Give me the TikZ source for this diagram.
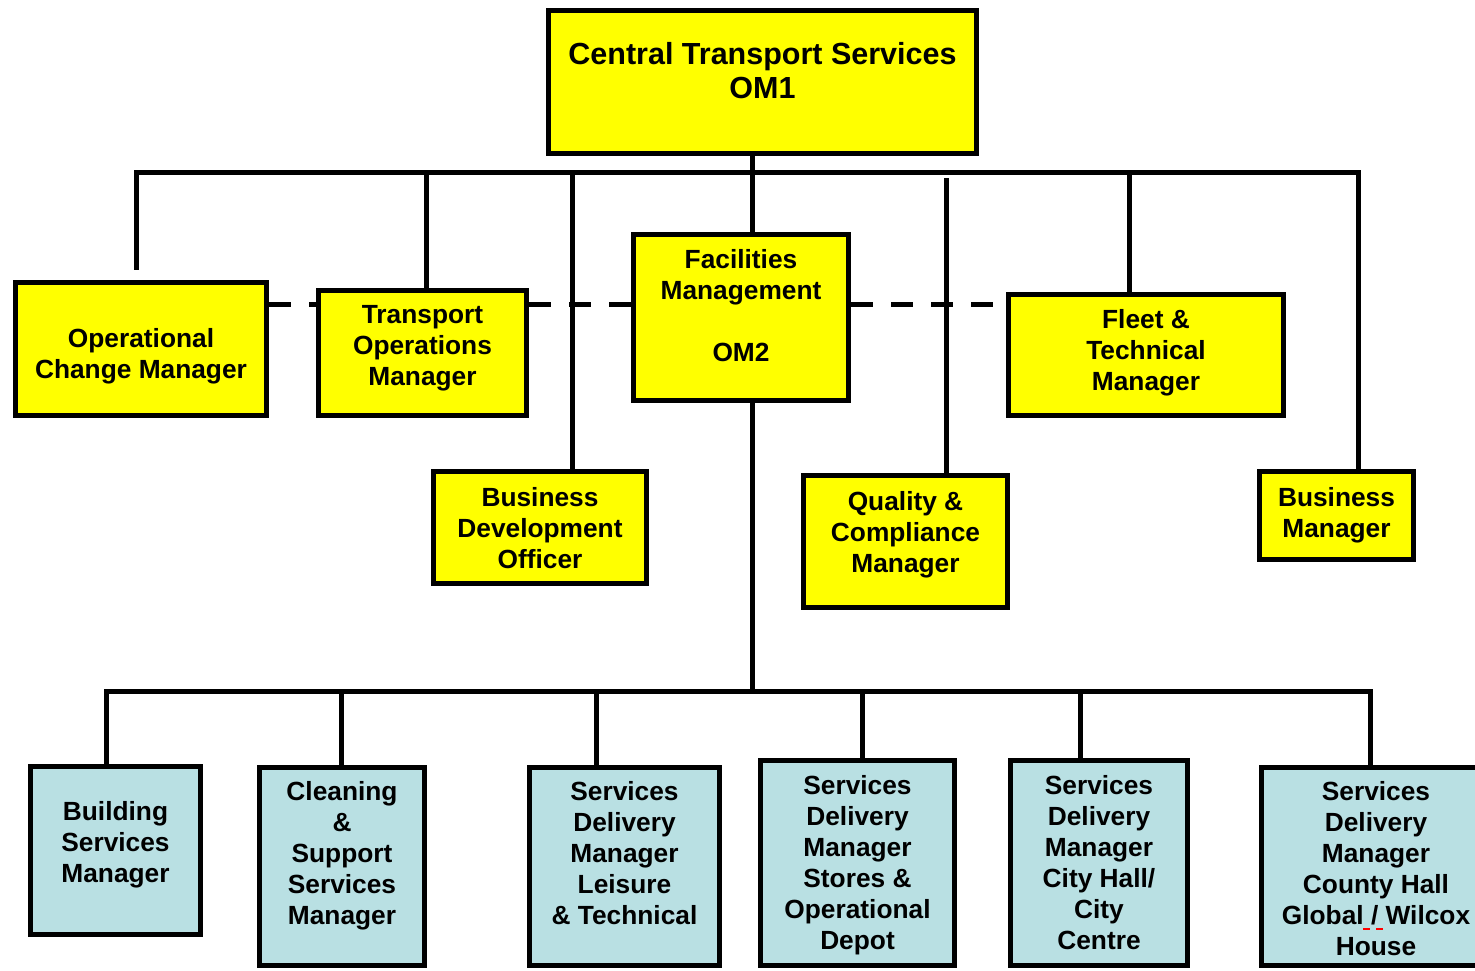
\documentclass[tikz,border=0pt]{standalone}
\usepackage{fontspec}
\setmainfont{Liberation Sans}
\usetikzlibrary{positioning}
\definecolor{boxyellow}{RGB}{255,255,0}
\definecolor{boxblue}{RGB}{185,224,227}

\begin{document}
\begin{tikzpicture}[
    x=1pt, y=-1pt,
    ybox/.style={draw, line width=5.5pt, fill=boxyellow, inner sep=0pt},
    bbox/.style={draw, line width=5.5pt, fill=boxblue, inner sep=0pt},
    txt/.style={align=center, inner sep=0pt, font=\bfseries\fontsize{26.3}{31}\selectfont},
    link/.style={line width=5pt},
    dashlink/.style={line width=5pt, dash pattern=on 22pt off 18pt}
]
\useasboundingbox (0,0) rectangle (1475,970);
\clip (0,0) rectangle (1475,970);

\node[ybox, minimum width=428pt, minimum height=143pt] (top) at (762.5,82) {};
\node[ybox, minimum width=251pt, minimum height=133pt] (ocm) at (141,349) {};
\node[ybox, minimum width=208pt, minimum height=125pt] (tom) at (422.5,353) {};
\node[ybox, minimum width=215pt, minimum height=166pt] (fm) at (741,317.5) {};
\node[ybox, minimum width=275pt, minimum height=121pt] (ftm) at (1146,355) {};
\node[ybox, minimum width=213pt, minimum height=112pt] (bdo) at (540,527.5) {};
\node[ybox, minimum width=204pt, minimum height=132pt] (qcm) at (905.5,541.5) {};
\node[ybox, minimum width=154pt, minimum height=88pt] (bm) at (1336.5,515.5) {};

\node[bbox, minimum width=170pt, minimum height=168pt] (bsm) at (115.5,850.5) {};
\node[bbox, minimum width=165pt, minimum height=198pt] (cssm) at (342,866.5) {};
\node[bbox, minimum width=190pt, minimum height=198pt] (leis) at (624.5,866.5) {};
\node[bbox, minimum width=194pt, minimum height=205pt] (stor) at (857.5,863) {};
\node[bbox, minimum width=177pt, minimum height=205pt] (city) at (1099,863) {};
\node[bbox, minimum width=229pt, minimum height=198pt] (chall) at (1376,866.5) {};

\node[txt, font=\bfseries\fontsize{30.5}{34}\selectfont, below=34pt of top.north] (top-t) {Central Transport Services\\OM1};
\node[txt, below=48pt of ocm.north] (ocm-t) {Operational\\Change Manager};
\node[txt, below=17pt of tom.north] (tom-t) {Transport\\Operations\\Manager};
\node[txt, below=17pt of fm.north] (fm-t) {Facilities\\Management\\[31pt]OM2};
\node[txt, below=17pt of ftm.north] (ftm-t) {Fleet \&\\Technical\\Manager};
\node[txt, below=18pt of bdo.north] (bdo-t) {Business\\Development\\Officer};
\node[txt, below=18pt of qcm.north] (qcm-t) {Quality \&\\Compliance\\Manager};
\node[txt, below=18pt of bm.north] (bm-t) {Business\\Manager};

\node[txt, below=37pt of bsm.north] (bsm-t) {Building\\Services\\Manager};
\node[txt, below=16pt of cssm.north] (cssm-t) {Cleaning\\\&\\Support\\Services\\Manager};
\node[txt, below=16pt of leis.north] (leis-t) {Services\\Delivery\\Manager\\Leisure\\\& Technical};
\node[txt, below=17pt of stor.north] (stor-t) {Services\\Delivery\\Manager\\Stores \&\\Operational\\Depot};
\node[txt, below=17pt of city.north] (city-t) {Services\\Delivery\\Manager\\City Hall/\\City\\Centre};
\node[txt, below=16pt of chall.north] (chall-t) {Services\\Delivery\\Manager\\County Hall\\Global / Wilcox\\House};

\coordinate (b1) at (136,172);
\coordinate (b2) at (426,172);
\coordinate (b3) at (572,172);
\coordinate (b4) at (752,172);
\coordinate (b5) at (946,172);
\coordinate (b6) at (1129,172);
\coordinate (b7) at (1358,172);
\coordinate (dash) at (0,304);
\coordinate (c1) at (106,691);
\coordinate (c2) at (341,691);
\coordinate (c3) at (596,691);
\coordinate (c4) at (862,691);
\coordinate (c5) at (1080,691);
\coordinate (c6) at (1370,691);

\draw[dashlink] (ocm.east |- dash) -- (tom.west |- dash);
\draw[dashlink] (tom.east |- dash) -- (fm.west |- dash);
\draw[dashlink] (fm.east |- dash) -- (ftm.west |- dash);

\draw[link] ([yshift=10pt]ocm.north -| b1) |- (b7) -- (bm.north -| b7);
\draw[link] (b2) -- (tom.north -| b2);
\draw[link] (b3) -- (bdo.north -| b3);
\draw[link] (top.south -| b4) -- (fm.north -| b4);
\draw[link] ([yshift=-6pt]b5) -- (qcm.north -| b5);
\draw[link] (b6) -- (ftm.north -| b6);

\draw[link] (fm.south -| b4) -- (b4 |- c1);
\draw[link] (bsm.north -| c1) |- (c6) -- (chall.north -| c6);
\draw[link] (c2) -- (cssm.north -| c2);
\draw[link] (c3) -- (leis.north -| c3);
\draw[link] (c4) -- (stor.north -| c4);
\draw[link] (c5) -- (city.north -| c5);

\draw[red, line width=2pt, dash pattern=on 7pt off 6pt] (1363,929) -- (1387,929);
\end{tikzpicture}
\end{document}
